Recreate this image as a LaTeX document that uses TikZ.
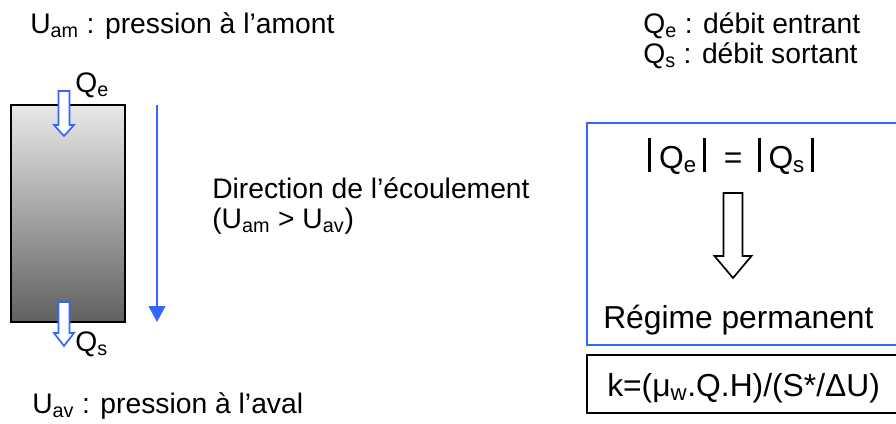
\documentclass[tikz,border=0pt]{standalone}
\usepackage{fontspec}
\setmainfont{Liberation Sans}
\usetikzlibrary{arrows.meta, positioning}

\definecolor{flowblue}{RGB}{51,102,255}

% thick bars round the flows
\newcommand{\absbar}{\rule[-0.13em]{0.1em}{1.07em}}

\tikzset{
    txt/.style = {
        font=\fontsize{20.1}{21.3}\selectfont,
        inner sep=0pt,
        anchor=base west,
        align=left
    },
    bigtxt/.style = {
        txt,
        font=\fontsize{22.6}{24}\selectfont
    },
    column/.style = {
        rectangle,
        draw,
        line width=1.3pt,
        top color=black!9,
        bottom color=black!62,
        minimum width=2.85cm,
        minimum height=5.43cm
    },
    flowline/.style = {
        draw=flowblue,
        line width=1.3pt,
        -{Triangle[length=0.4cm, width=0.42cm]}
    },
    pics/downarrow/.style n args = {4}{% shaft width, head width, head length, length
        code = {
            \draw [pic actions] ({-#1/2},0) -- ({#1/2},0) -- ({#1/2},{#4-#3}) -- ({#2/2},{#4-#3})
                -- (0,#4) -- ({-#2/2},{#4-#3}) -- ({-#1/2},{#4-#3}) -- cycle;
        }
    }
}

\begin{document}
\begin{tikzpicture}[
    x=0.025cm, y=-0.025cm,
    boxline/.style={line width=1.2pt},
    smallarrow/.style={draw=flowblue, fill=white, line width=1.2pt}
]

\useasboundingbox (0,0) rectangle (896,423);
\clip (0,0) rectangle (896,423);

% Pressure labels
\node [txt] (amont) at (30,33) {U\textsubscript{am} : pression à l’amont};
\node [txt] (aval) at (32,413) {U\textsubscript{av} : pression à l’aval};

% Soil column
\node [column] (col) at (68,213.5) {};

% Inflow and outflow
\pic [smallarrow] at (64,91) {downarrow={11}{20}{11}{45}};
\pic [smallarrow] at (64,302) {downarrow={11}{20}{13}{44}};
\node [txt] (qin) at (75,92) {Q\textsubscript{e}};
\node [txt] (qout) at (75,351) {Q\textsubscript{s}};

% Flow direction
\coordinate (flowtop) at (157,105);
\coordinate (flowend) at (157,322);
\draw [flowline] (flowtop) -- (flowend);
\node [txt] (dir) at (212,228) {Direction de l’écoulement\\(U\textsubscript{am} > U\textsubscript{av})}; % base = last line

% Flow definitions
\node [txt] (defs) at (643,63) {Q\textsubscript{e} : débit entrant\\Q\textsubscript{s} : débit sortant};

% Steady state box
\draw [boxline, flowblue] (587,123) rectangle (920,345);
\node [bigtxt, anchor=base west] (bal) at (648,168) {\absbar\hspace{0.24em}Q\textsubscript{e}\hspace{0.2em}\absbar\hspace{0.55em}=\hspace{0.48em}\absbar\hspace{0.24em}Q\textsubscript{s}\hspace{0.18em}\absbar};
\pic [draw, fill=white, boxline] at (733,193) {downarrow={19}{37}{22}{85}};
\node [bigtxt] (regime) at (603,328) {Régime permanent};

% Permeability
\draw [boxline] (587,355) rectangle (920,413);
\node [bigtxt] (perm) at (607,396) {k=(μ\textsubscript{w}.Q.H)/(S*/ΔU)};

\end{tikzpicture}
\end{document}
